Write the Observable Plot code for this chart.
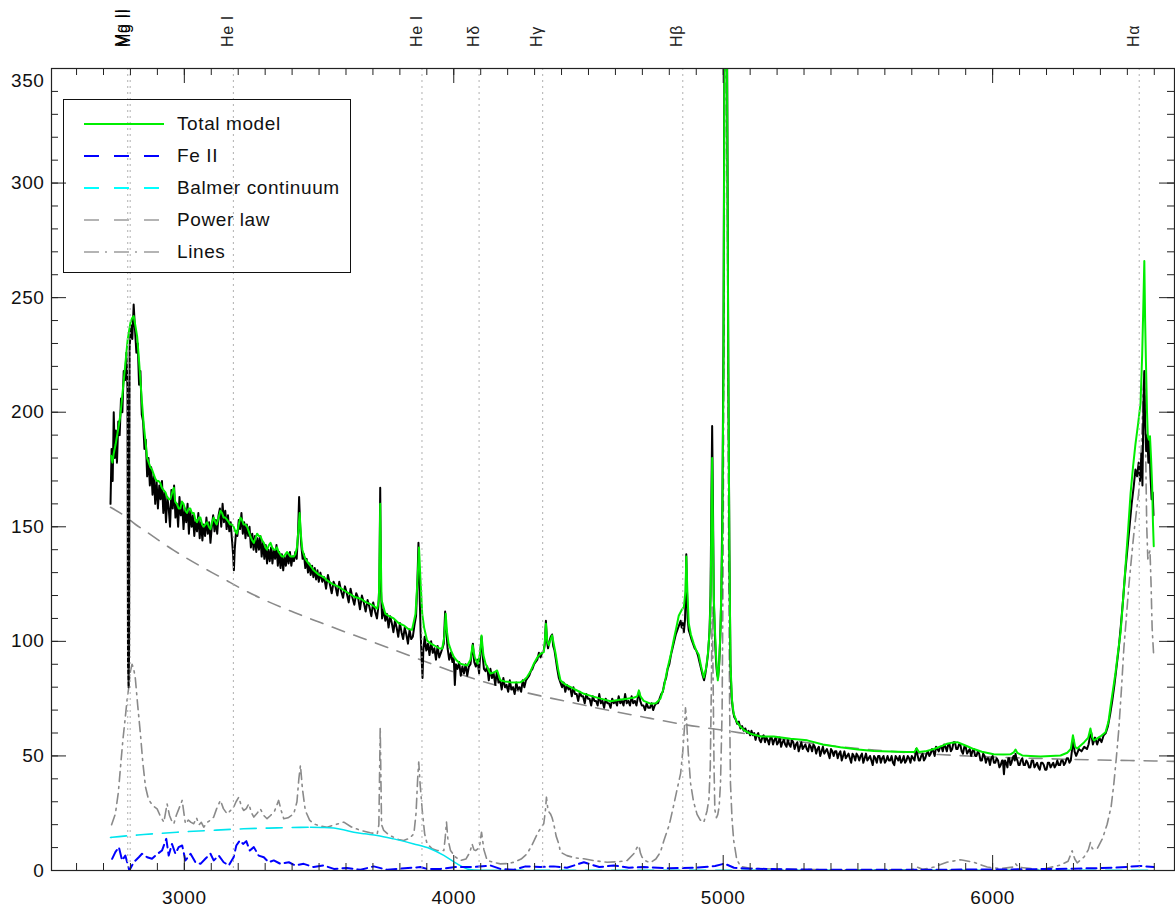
<!DOCTYPE html>
<html><head><meta charset="utf-8">
<script src="https://cdn.jsdelivr.net/npm/d3@7"></script>
<script src="https://cdn.jsdelivr.net/npm/@observablehq/plot@0.6"></script>
<style>
body{margin:0;background:#fff;font-family:"Liberation Sans",Arial,sans-serif;}
#wrap{position:relative;width:1175px;height:919px;overflow:hidden;}
#wrap svg{display:block;}
#wrap svg text{letter-spacing:0.6px;}
#legend{position:absolute;left:63px;top:99px;width:288px;height:174px;border:1px solid #111;box-sizing:border-box;}
.row{position:absolute;left:0;width:280px;height:22px;}
.row svg{position:absolute;left:20px;top:6px;}
.row span{position:absolute;left:113px;top:0;font-size:19px;line-height:22px;letter-spacing:0.6px;color:#111;}
</style></head>
<body><div id="wrap"><div id="legend"></div></div>
<script>
// ---------------- DATA ----------------
const xTickLabels = [3000, 4000, 5000, 6000];
const yTickLabels = [0, 50, 100, 150, 200, 250, 300];
const yTopLabel = [350];

const lineNames = ["Mg II", "Mg II", "He I", "He I", "H\u03b4", "H\u03b3", "H\u03b2", "H\u03b1"];
const lineWaves = [2790, 2799, 3182, 3882, 4094, 4330, 4850, 6544];

// Observed spectrum (black), [wavelength, flux]
const observedBlue = [[2726,160],[2730,184],[2734,170],[2738,200],[2742,180],[2746,192],[2750,178],[2755,196],[2760,190],[2765,206],[2770,200],[2775,218],[2780,214],[2785,226],[2789,210],[2791,90],[2793,80],[2795,95],[2797,228],[2802,238],[2807,232],[2812,247],[2817,236],[2822,226],[2827,230],[2832,212],[2837,218],[2842,199],[2847,196],[2852,184],[2857,188],[2862,172],[2867,180],[2872,168],[2877,176],[2882,164],[2887,172],[2892,160],[2897,170],[2902,158],[2907,168],[2912,162],[2917,170],[2922,156],[2927,165],[2932,152],[2937,163],[2942,158],[2947,150],[2952,166],[2957,158],[2962,168],[2967,154],[2972,160],[2977,150],[2982,163],[2987,155],[2992,160],[2997,149],[3002,158],[3007,152],[3012,160],[3017,147],[3022,157],[3027,150],[3032,155],[3037,146],[3042,153],[3047,148],[3052,156],[3057,145],[3062,152],[3067,144],[3072,151],[3077,146],[3082,154],[3087,147],[3092,152],[3097,143],[3102,150],[3107,155],[3112,148],[3117,153],[3122,147],[3127,155],[3132,158],[3137,150],[3142,160],[3147,152],[3152,157],[3157,149],[3162,155],[3167,148],[3172,152],[3177,144],[3181,138],[3184,131],[3187,140],[3192,148],[3197,146],[3202,153],[3207,149],[3212,156],[3217,147],[3222,152],[3227,145],[3232,151],[3237,146],[3242,150],[3247,141],[3252,147],[3257,140],[3262,146],[3267,139],[3272,145],[3277,140],[3282,146],[3287,137],[3292,143],[3297,136],[3302,142],[3307,134],[3312,140],[3317,135],[3322,141],[3327,134],[3332,140],[3337,136],[3342,142],[3347,133],[3352,139],[3357,132],[3362,138],[3367,131],[3372,137],[3377,133],[3382,138],[3387,134],[3392,139],[3397,133],[3402,137],[3407,135],[3412,139],[3417,136],[3422,147],[3426,163],[3430,150],[3434,142],[3439,136],[3444,138],[3449,132],[3454,136],[3459,130],[3464,134],[3469,129],[3474,133],[3479,128],[3484,132],[3489,127],[3494,131],[3499,126]];
const observedMid = [[3505,130],[3512,126],[3519,128],[3526,123],[3533,129],[3540,125],[3547,121],[3554,126],[3561,124],[3568,120],[3575,126],[3582,122],[3589,119],[3596,124],[3603,121],[3610,117],[3617,123],[3624,119],[3631,116],[3638,121],[3645,119],[3652,114],[3659,120],[3666,117],[3673,113],[3680,118],[3687,115],[3694,111],[3701,117],[3708,113],[3715,110],[3720,115],[3724,125],[3727,167],[3730,122],[3734,110],[3740,114],[3746,109],[3752,112],[3758,106],[3764,111],[3770,108],[3776,104],[3782,109],[3788,106],[3794,102],[3800,108],[3806,104],[3812,101],[3818,106],[3824,103],[3830,99],[3836,105],[3842,101],[3848,102],[3854,107],[3860,111],[3865,126],[3869,143],[3873,122],[3877,104],[3881,92],[3884,84],[3887,96],[3892,102],[3898,96],[3904,99],[3910,94],[3916,100],[3922,95],[3928,97],[3934,92],[3940,98],[3946,93],[3952,95],[3958,97],[3963,99],[3968,113],[3972,105],[3977,97],[3983,92],[3989,95],[3995,91],[4000,93],[4004,81],[4008,90],[4014,88],[4020,91],[4026,85],[4032,89],[4038,86],[4044,90],[4050,85],[4056,89],[4062,90],[4067,95],[4071,99],[4076,91],[4082,89],[4088,92],[4094,86],[4099,96],[4103,102],[4107,94],[4112,88],[4118,87],[4124,89],[4130,83],[4136,88],[4142,84],[4148,86],[4154,81],[4160,87],[4166,82],[4172,83],[4178,79],[4184,84],[4190,80],[4196,81],[4202,78],[4208,83],[4214,79],[4220,80],[4226,77],[4232,82],[4238,79],[4244,80],[4250,78],[4256,83],[4262,80],[4268,83],[4274,84],[4280,85],[4286,87],[4292,88],[4298,90],[4304,91],[4310,92],[4316,95],[4322,93],[4328,95],[4334,96],[4338,99],[4342,109],[4346,100],[4350,97],[4355,100],[4360,102],[4365,103],[4369,98],[4374,96],[4379,92],[4384,88],[4390,84],[4396,82],[4402,80],[4408,82],[4414,78],[4420,81],[4426,79],[4432,80],[4438,76],[4444,80],[4450,77],[4456,77],[4462,74],[4468,78],[4474,76],[4480,76],[4486,73],[4492,77],[4498,75],[4504,75],[4510,72],[4516,76],[4522,74],[4528,74],[4534,72],[4540,77],[4546,73],[4552,74],[4558,71],[4564,75],[4570,73],[4576,73],[4582,71],[4588,75],[4594,73],[4600,74],[4606,72],[4612,76],[4618,73],[4624,74],[4630,72],[4636,77],[4642,73],[4648,74],[4654,72],[4660,76],[4666,73],[4672,74],[4678,72],[4684,76],[4688,78],[4692,74],[4698,72],[4704,72],[4710,70],[4716,73],[4722,71],[4728,71],[4734,73],[4740,70],[4746,72],[4752,73],[4758,73],[4764,75],[4770,77],[4776,78],[4782,82],[4788,84],[4794,88],[4800,90]];
const observedHbeta = [[4806,94],[4812,97],[4818,100],[4824,103],[4830,105],[4836,107],[4842,109],[4846,106],[4850,108],[4854,104],[4858,109],[4861,120],[4863,138],[4865,125],[4868,110],[4872,105],[4877,103],[4882,101],[4888,99],[4894,97],[4900,96],[4906,94],[4912,91],[4918,88],[4924,85],[4929,83],[4934,86],[4939,90],[4944,95],[4949,104],[4953,120],[4956,160],[4959,194],[4962,160],[4965,118],[4969,103],[4973,92],[4977,86],[4981,84],[4985,90],[4989,102],[4993,120],[4997,160],[5001,230],[5004,340],[5007,460],[5011,460],[5015,340],[5019,220],[5023,140],[5027,90],[5031,76],[5036,70],[5041,67],[5046,66],[5052,64],[5058,65],[5064,62],[5070,63],[5076,61],[5082,62],[5088,60],[5094,61],[5100,59]];
const observedRed = [[5105,61],[5110,59],[5115,60],[5120,57],[5125,59],[5130,60],[5135,57],[5140,56],[5145,58],[5150,59],[5155,56],[5160,58],[5165,57],[5170,55],[5175,58],[5180,58],[5185,55],[5190,57],[5195,58],[5200,55],[5205,56],[5210,58],[5215,54],[5220,56],[5225,57],[5230,55],[5235,54],[5240,57],[5245,55],[5250,54],[5255,57],[5260,56],[5265,53],[5270,55],[5275,56],[5280,52],[5285,54],[5290,56],[5295,53],[5300,54],[5305,55],[5310,53],[5315,52],[5320,55],[5325,54],[5330,52],[5335,55],[5340,54],[5345,51],[5350,53],[5355,54],[5360,50],[5365,52],[5370,54],[5375,51],[5380,52],[5385,53],[5390,51],[5395,49],[5400,53],[5405,52],[5410,50],[5415,52],[5420,52],[5425,49],[5430,51],[5435,52],[5440,48],[5445,50],[5450,52],[5455,49],[5460,50],[5465,51],[5470,49],[5475,47],[5480,51],[5485,50],[5490,48],[5495,51],[5500,50],[5505,48],[5510,50],[5515,51],[5520,47],[5525,49],[5530,51],[5535,48],[5540,49],[5545,50],[5550,48],[5555,46],[5560,50],[5565,49],[5570,47],[5575,50],[5580,50],[5585,47],[5590,49],[5595,50],[5600,47],[5605,48],[5610,50],[5615,48],[5620,48],[5625,50],[5630,47],[5635,46],[5640,50],[5645,49],[5650,48],[5655,50],[5660,47],[5665,48],[5670,50],[5675,47],[5680,48],[5685,50],[5690,49],[5695,47],[5700,50],[5705,49],[5710,48],[5716,53],[5722,50],[5726,48],[5730,48],[5735,50],[5740,51],[5745,48],[5750,49],[5755,51],[5760,52],[5765,50],[5770,51],[5775,53],[5780,52],[5785,50],[5790,54],[5795,53],[5800,52],[5805,54],[5810,54],[5815,52],[5820,55],[5825,54],[5830,52],[5835,55],[5840,55],[5845,52],[5850,53],[5855,56],[5860,56],[5865,53],[5870,53],[5875,55],[5880,55],[5885,52],[5890,51],[5895,54],[5900,54],[5905,51],[5910,52],[5915,53],[5920,50],[5925,52],[5930,53],[5935,50],[5940,50],[5945,52],[5950,51],[5955,48],[5960,48],[5965,51],[5970,50],[5975,47],[5980,49],[5985,49],[5990,46],[5995,49],[6000,50],[6005,47],[6010,47],[6015,49],[6020,48],[6025,45],[6030,46],[6035,48],[6038,48],[6042,42],[6046,48],[6050,47],[6055,45],[6058,49],[6062,49],[6066,46],[6070,47],[6074,49],[6078,50],[6082,48],[6085,51],[6088,49],[6092,48],[6096,46],[6100,46],[6105,48],[6110,49],[6115,46],[6120,46],[6125,48],[6130,47],[6135,45],[6140,45],[6145,48],[6150,48],[6155,45],[6160,46],[6165,47],[6170,45],[6175,44],[6180,47],[6185,47],[6190,46],[6195,44],[6200,44],[6205,47],[6210,47],[6215,45],[6220,46],[6225,47],[6230,45],[6235,46],[6240,48],[6245,46],[6250,46],[6255,48],[6260,48],[6265,46],[6270,47],[6275,49],[6280,49],[6285,47],[6290,48],[6296,54],[6300,57],[6304,52],[6310,50],[6320,53],[6330,52],[6340,54],[6350,53],[6356,55],[6362,59],[6366,60],[6372,55],[6380,58],[6388,55],[6396,58],[6404,56],[6412,59],[6420,60],[6428,63],[6436,68],[6444,74],[6452,81],[6460,89],[6468,97],[6476,107],[6484,118],[6492,130],[6500,140],[6508,150],[6516,160],[6524,168],[6530,175],[6536,172],[6542,178],[6547,170],[6552,182],[6556,168],[6560,205],[6563,218],[6566,195],[6570,183],[6574,190],[6578,178],[6582,188],[6586,172],[6590,162],[6594,165],[6597,155]];

// Total model (green)
const totalModel = [[2728,181],[2733,178],[2738,182],[2745,186],[2755,193],[2763,199],[2772,210],[2781,221],[2790,232],[2800,239],[2806,241],[2812,242],[2818,238],[2825,233],[2831,224],[2837,214],[2843,204],[2849,195],[2856,187],[2862,180],[2868,178],[2874,176],[2880,175],[2886,173],[2892,171],[2898,170],[2905,170],[2911,169],[2917,167],[2923,166],[2930,165],[2936,163],[2942,162],[2948,162],[2955,165],[2961,167],[2966,161],[2972,160],[2979,158],[2985,158],[2991,161],[2997,160],[3004,157],[3010,156],[3016,158],[3022,158],[3028,156],[3035,156],[3041,153],[3047,152],[3054,154],[3060,154],[3066,151],[3072,150],[3078,151],[3085,152],[3091,150],[3097,149],[3103,152],[3109,154],[3115,152],[3120,151],[3127,154],[3134,157],[3140,156],[3146,154],[3152,154],[3159,153],[3165,152],[3170,151],[3177,151],[3183,150],[3189,148],[3195,147],[3202,151],[3208,154],[3214,153],[3220,151],[3227,151],[3233,150],[3239,148],[3245,146],[3252,144],[3258,143],[3264,145],[3270,147],[3276,146],[3282,146],[3289,144],[3295,143],[3301,141],[3307,140],[3314,142],[3320,143],[3326,141],[3332,140],[3338,140],[3344,141],[3350,139],[3356,138],[3363,137],[3369,137],[3375,138],[3381,139],[3388,138],[3394,137],[3400,137],[3406,137],[3412,138],[3418,141],[3423,148],[3428,156],[3433,146],[3438,140],[3443,138],[3449,136],[3455,135],[3461,134],[3468,133],[3474,132],[3480,131],[3490,130],[3500,129],[3517,128],[3530,126.6],[3550,125],[3570,124],[3592,122.3],[3610,121],[3630,119.5],[3654,118.6],[3675,117],[3695,116],[3716,114.3],[3722,118],[3725,140],[3727,160],[3729,140],[3732,118],[3746,112],[3760,111],[3777,110],[3795,108],[3814,107],[3830,105.5],[3845,105],[3858,112],[3866,128],[3871,141],[3876,128],[3883,112],[3890,106],[3901,100.4],[3915,99],[3926,98.3],[3945,97],[3957,96.8],[3965,102],[3970,112],[3975,104],[3981,99],[3990,96],[4000,93.2],[4012,91.5],[4025,90.2],[4038,89.8],[4050,89.5],[4062,92],[4070,98.3],[4078,93],[4089,90.2],[4098,95],[4103,102.6],[4110,94],[4118,90.2],[4136,85.9],[4150,86.5],[4161,87.3],[4173,83],[4190,82.5],[4210,82.2],[4230,82],[4248,82.2],[4260,83],[4272,84.4],[4285,87],[4297,90.2],[4310,93],[4322,94.6],[4334,95.3],[4338,100],[4342,107.7],[4347,100],[4353,98.3],[4360,101],[4365,102.6],[4371,99],[4378,94.6],[4387,88],[4396,83],[4410,81.5],[4421,80.8],[4450,79],[4483,77.1],[4515,76],[4545,75],[4582,73.9],[4615,74.5],[4644,75],[4670,75.5],[4681,76],[4687,78.6],[4693,76],[4705,74],[4730,72.8],[4750,73],[4767,75],[4780,80],[4792,87.5],[4805,94],[4817,101],[4826,106],[4835,111.2],[4845,113.5],[4854,115],[4860,122],[4863,137],[4867,122],[4872,107.9],[4880,103],[4891,98.8],[4900,96],[4909,94.3],[4918,89],[4928,84.2],[4936,88],[4943,94.3],[4950,105],[4954,125],[4957,160],[4959,180],[4961,160],[4965,120],[4969,105.7],[4975,90],[4980,83],[4985,90],[4990,105.7],[4996,140],[5001,218],[5004,330],[5007,430],[5011,430],[5015,330],[5019,218],[5023,140],[5027,90],[5033,74],[5039,68.4],[5050,65],[5064,62.7],[5080,61],[5101,59.7],[5140,58.5],[5188,58.5],[5250,57.5],[5312,56.8],[5370,55],[5435,53.8],[5500,52.8],[5559,52.1],[5620,51.9],[5683,51.7],[5710,51.7],[5718,53.4],[5726,51.7],[5750,52],[5782,53],[5810,54.3],[5831,55.3],[5850,55.8],[5869,56],[5890,55],[5910,54],[5930,53],[5960,51.8],[6004,50.7],[6040,50.6],[6066,50.7],[6078,51.5],[6085,52.8],[6092,51.3],[6110,50.2],[6140,50],[6178,49.7],[6215,50],[6252,50.2],[6277,51.4],[6290,53],[6298,59],[6306,54],[6314,53.2],[6340,56],[6355,58],[6363,62],[6370,58],[6376,56.8],[6400,58.5],[6419,60.3],[6430,65],[6438,71.9],[6447,79],[6456,86.2],[6465,95],[6475,104],[6484,118],[6493,132.5],[6503,149],[6512,164.6],[6521,176],[6530,186],[6540,195],[6549,204],[6555,225],[6560,250],[6563,266],[6566,240],[6569,222],[6573,200],[6576,189.5],[6580,188],[6584,189.5],[6588,180],[6592,168],[6595,152],[6598,141.5]];

// Fe II template (blue dashed)
const feII = [[2732,5.1],[2744,8],[2757,10.2],[2769,4.4],[2781,6.5],[2796,0],[2812,3.6],[2831,5.8],[2843,7.3],[2862,5.8],[2880,5.1],[2901,7.3],[2917,8.7],[2933,13.8],[2942,6.5],[2954,11.6],[2967,7.3],[2979,10.2],[2992,10.9],[3004,4.4],[3023,7.3],[3041,3.6],[3060,2.9],[3078,5.1],[3097,7.3],[3109,4.4],[3128,6.5],[3146,3.6],[3165,2.2],[3183,5.8],[3193,10.9],[3206,13.1],[3218,11.6],[3230,12.8],[3243,8.7],[3258,10.2],[3276,6.5],[3295,5.8],[3313,3.6],[3332,4.4],[3357,2.9],[3388,3.6],[3412,2.2],[3443,2.9],[3480,1.5],[3517,2.2],[3555,0.7],[3604,1.1],[3654,0.3],[3703,1.8],[3753,0.3],[3790,0.7],[3876,1.5],[3901,0.7],[3951,0.7],[4006,1.5],[4074,1.5],[4136,2.2],[4173,0.7],[4223,0.3],[4266,1.8],[4322,1.5],[4371,1.8],[4420,1.2],[4483,3.6],[4540,1.5],[4594,2.2],[4650,1.2],[4705,1.5],[4800,1],[4900,1.2],[4970,2],[5005,3],[5040,1.2],[5100,0.8],[5300,0.4],[5500,0.3],[5700,0.3],[5900,0.4],[6100,0.5],[6300,0.8],[6450,1.2],[6550,2],[6598,1.5]];

// Balmer continuum (cyan)
const balmerCont = [[2726,14.4],[2733,14.5],[2849,15.7],[2973,16.7],[3097,17.5],[3220,18.2],[3344,18.6],[3468,18.9],[3520,18.8],[3555,18.5],[3590,17.8],[3629,16.7],[3670,16],[3716,15.3],[3777,13.8],[3852,11.6],[3913,9.5],[3963,6.6],[4013,2.9],[4050,0.7],[4100,0.1],[4200,0],[5000,0],[6000,0],[6598,0]];

// Power law continuum (grey dashed)
const powerLaw = [[2726,158.5],[2775,155],[2819,151],[2862,147.6],[2911,143.6],[2961,139.7],[3004,136.6],[3054,133.2],[3103,130],[3146,127.3],[3196,124],[3295,118.2],[3406,112.7],[3505,108.2],[3604,103.8],[3703,99.6],[3790,95.8],[3901,90.9],[4000,86.6],[4099,82.8],[4198,79.6],[4322,76.2],[4450,73],[4545,70.6],[4730,66.4],[4850,63.8],[5000,61.2],[5101,59.4],[5249,56.8],[5435,54],[5600,52.2],[5800,50.6],[6004,49.5],[6200,48.8],[6400,48.2],[6600,47.8],[6680,47.6]];

// Emission lines (grey dash-dot)
const emissionLines = [[2730,20],[2744,24.7],[2755,34],[2763,45],[2772,57],[2781,67],[2788,75],[2794,80],[2800,87],[2806,90],[2812,88],[2818,84],[2827,72],[2837,59.7],[2846,47],[2856,36.4],[2865,32],[2874,29.8],[2886,28],[2899,26.9],[2910,24],[2924,21.1],[2930,25],[2936,29.1],[2945,24],[2952,22],[2961,20.4],[2970,24],[2980,27],[2992,30.6],[3004,20.4],[3015,22],[3025,21],[3035,20.4],[3045,23],[3055,20],[3063,21],[3072,18.9],[3085,21],[3097,22],[3109,23.3],[3120,27],[3134,30.6],[3145,27],[3159,24.7],[3170,26],[3183,27.6],[3192,30],[3202,32],[3212,28],[3220,26.2],[3230,27],[3239,29.1],[3250,25],[3258,23.3],[3270,25],[3282,26.9],[3295,24],[3307,22.6],[3320,24],[3335,26],[3350,30.6],[3360,26],[3369,22.6],[3385,23],[3406,24.7],[3418,30],[3425,40],[3431,45.9],[3438,36],[3449,26.2],[3465,22],[3480,20.4],[3500,19.5],[3530,18.9],[3560,20],[3592,21.1],[3620,19],[3654,17.5],[3690,16.5],[3716,16],[3722,20],[3727,62.6],[3732,20],[3740,17.5],[3760,15.5],[3777,14.5],[3795,13.5],[3814,13.1],[3835,14],[3852,16],[3860,25],[3866,40],[3870,47.3],[3875,38],[3883,26.2],[3892,16],[3901,11.6],[3920,9.5],[3938,8.7],[3963,8.7],[3968,14],[3973,21.1],[3978,14],[3988,8.7],[4005,6],[4025,4.4],[4045,5],[4060,8],[4068,11.6],[4075,9],[4081,8.7],[4095,10],[4103,16.7],[4112,9],[4124,4.4],[4150,3.5],[4173,2.9],[4200,3],[4223,3.6],[4250,5],[4272,7.3],[4290,11],[4310,16],[4325,19],[4334,20.4],[4340,26],[4344,32],[4350,26],[4359,24.7],[4365,23],[4371,20.4],[4380,15],[4390,11.6],[4396,8],[4420,6.5],[4450,5.5],[4483,5.1],[4520,4.3],[4569,3.6],[4610,3.8],[4644,4.4],[4668,7.3],[4680,10],[4687,10.9],[4693,7.5],[4699,5.8],[4715,4],[4730,3.5],[4750,5],[4767,8],[4780,13.1],[4800,20],[4817,28.9],[4830,36],[4842,42.4],[4850,52],[4856,62],[4860,71],[4864,66],[4870,52],[4879,38],[4890,30],[4903,24.5],[4915,22],[4928,21],[4940,26],[4947,31.2],[4952,45],[4956,80],[4959,115],[4962,90],[4966,45],[4969,26.6],[4975,23],[4980,24.5],[4985,28],[4990,38],[4996,70],[5000,140],[5004,280],[5008,400],[5012,400],[5016,280],[5020,140],[5024,70],[5027,38],[5033,22],[5039,13.1],[5050,5],[5064,1.8],[5100,1],[5200,0.6],[5400,0.3],[5700,0.3],[5720,1.5],[5740,0.5],[5782,1.5],[5830,3.6],[5881,4.7],[5930,3.6],[5980,1.5],[6030,0.8],[6075,1.5],[6085,3],[6095,1.5],[6178,0.3],[6252,2.4],[6280,4],[6295,8.6],[6305,5],[6314,3.3],[6340,6],[6355,9],[6363,12.2],[6370,9.5],[6388,9.5],[6408,14],[6425,20.2],[6440,28],[6450,38],[6459,49],[6468,61.2],[6478,79],[6487,96.9],[6496,110],[6505,123.6],[6515,136],[6524,146.8],[6533,156],[6542,164.6],[6550,178],[6555,195],[6559,210],[6563,218],[6567,190],[6572,150],[6576,136],[6580,138],[6584,139.7],[6588,125],[6592,105.8],[6598,93.3]];

// Axis tick values
const xMinorTicks = d3.range(2600, 6601, 100);
const xMajorTicks = [3000, 4000, 5000, 6000];
const yMinorTicks = d3.range(0, 351, 10);
const yMajorTicks = [0, 50, 100, 150, 200, 250, 300, 350];

const legendItems = [
  {label: "Total model", stroke: "#00ee00", dash: "none"},
  {label: "Fe II", stroke: "#0000ff", dash: "15,15"},
  {label: "Balmer continuum", stroke: "#00ffff", dash: "15,15"},
  {label: "Power law", stroke: "#b4b4b4", dash: "15,15"},
  {label: "Lines", stroke: "#b4b4b4", dash: "15,6,2,7"}
];

// ---------------- CHART ----------------
const W = 1175, H = 919;
const mL = 51, mR = 1, mT = 68, mB = 49;
const plotW = W - mL - mR, plotH = H - mT - mB;
const observed = observedBlue.concat(observedMid, observedHbeta, observedRed);
const X = d => d[0], Y = d => d[1];
const font = "Liberation Sans, Arial, sans-serif";
const balmerDashedBlue = balmerCont.filter(d => d[0] <= 3468);
const balmerSolid = balmerCont.filter(d => d[0] >= 3468 && d[0] <= 4200);
const balmerDashedRed = balmerCont.filter(d => d[0] >= 4200);

const chart = Plot.plot({
  width: W, height: H,
  marginLeft: mL, marginRight: mR, marginTop: mT, marginBottom: mB,
  x: {domain: [2507, 6675], axis: null},
  y: {domain: [0, 350], axis: null},
  style: {fontFamily: font, background: "white", color: "#111"},
  marks: [
    Plot.line(powerLaw, {x: X, y: Y, curve: "monotone-x", stroke: "#8a8a8a", strokeWidth: 1.6, strokeDasharray: "13,10", clip: true}),
    Plot.line(emissionLines, {x: X, y: Y, stroke: "#8a8a8a", strokeWidth: 1.6, strokeDasharray: "10,5,2,5", clip: true}),
    Plot.line(balmerDashedBlue, {x: X, y: Y, curve: "monotone-x", stroke: "#00e5ee", strokeWidth: 1.6, strokeDasharray: "16,10", clip: true}),
    Plot.line(balmerSolid, {x: X, y: Y, curve: "monotone-x", stroke: "#00e5ee", strokeWidth: 1.5, clip: true}),
    Plot.line(balmerDashedRed, {x: X, y: Y, stroke: "#00e5ee", strokeWidth: 2, strokeDasharray: "16,10", clip: true}),
    Plot.line(feII, {x: X, y: Y, stroke: "#0000ff", strokeWidth: 2, strokeDasharray: "10,5", clip: true}),
    Plot.line(observed, {x: X, y: Y, stroke: "#000", strokeWidth: 2, clip: true}),
    Plot.line(totalModel, {x: X, y: Y, stroke: "#00ee00", strokeWidth: 2, clip: true}),
    Plot.ruleX(lineWaves, {x: d => d, stroke: "#b0b0b0", strokeWidth: 1, strokeDasharray: "2,4"}),
    Plot.frame({stroke: "#222", strokeWidth: 1.2}),
    // ticks: bottom & top
    Plot.tickX(xMinorTicks, {x: d => d, insetTop: plotH - 7, stroke: "#222"}),
    Plot.tickX(xMinorTicks, {x: d => d, insetBottom: plotH - 7, stroke: "#222"}),
    Plot.tickX(xMajorTicks, {x: d => d, insetTop: plotH - 15, stroke: "#222"}),
    Plot.tickX(xMajorTicks, {x: d => d, insetBottom: plotH - 15, stroke: "#222"}),
    // ticks: left & right
    Plot.tickY(yMinorTicks, {y: d => d, insetRight: plotW - 7, stroke: "#222"}),
    Plot.tickY(yMinorTicks, {y: d => d, insetLeft: plotW - 7, stroke: "#222"}),
    Plot.tickY(yMajorTicks, {y: d => d, insetRight: plotW - 15, stroke: "#222"}),
    Plot.tickY(yMajorTicks, {y: d => d, insetLeft: plotW - 15, stroke: "#222"}),
    // tick labels
    Plot.text(xTickLabels, {x: d => d, text: d => String(d), frameAnchor: "bottom", dy: 33, fontSize: 19, fill: "#111"}),
    Plot.text(yTickLabels, {y: d => d, text: d => String(d), frameAnchor: "left", dx: -7, textAnchor: "end", fontSize: 19, fill: "#111"}),
    Plot.text(yTopLabel, {y: d => d, text: d => String(d), frameAnchor: "left", dx: -7, dy: 12, textAnchor: "end", fontSize: 19, fill: "#111"}),
    // line identifications (re-oriented below)
    Plot.text(lineWaves, {x: d => d, text: (d, i) => lineNames[i], frameAnchor: "top",
      textAnchor: "start", lineAnchor: "bottom", fontSize: 16, fill: "#222"})
  ]
});

// orient the identification labels vertically (reading upward), placed by Plot's x scale
const xs = chart.scale("x");
let k = 0;
d3.select(chart).selectAll("text").each(function() {
  if (k >= lineNames.length) return;
  if (this.textContent !== lineNames[k]) return;
  const px = xs.apply(lineWaves[k]);
  const t = d3.select(this);
  if (this.parentNode && this.parentNode.getAttribute("transform")) this.parentNode.removeAttribute("transform");
  t.attr("x", null).attr("y", null).attr("dx", null).attr("dy", null)
   .attr("text-anchor", "start")
   .attr("fill", k < 2 ? "#000" : "#222")
   .attr("transform", `translate(${px.toFixed(1)},${mT - 21}) rotate(-90)`);
  t.selectAll("tspan").attr("x", null).attr("y", null).attr("dy", null);
  k++;
});

const wrap = document.getElementById("wrap");
wrap.insertBefore(chart, wrap.firstChild);

// legend
const legend = document.getElementById("legend");
legendItems.forEach((it, i) => {
  const row = document.createElement("div");
  row.className = "row";
  row.style.top = (12.5 + i * 32.2) + "px";
  row.innerHTML = `<svg width="80" height="10"><line x1="0" y1="5" x2="80" y2="5" stroke="${it.stroke}" stroke-width="2" stroke-dasharray="${it.dash}"/></svg><span>${it.label}</span>`;
  legend.appendChild(row);
});
</script>
</body></html>
